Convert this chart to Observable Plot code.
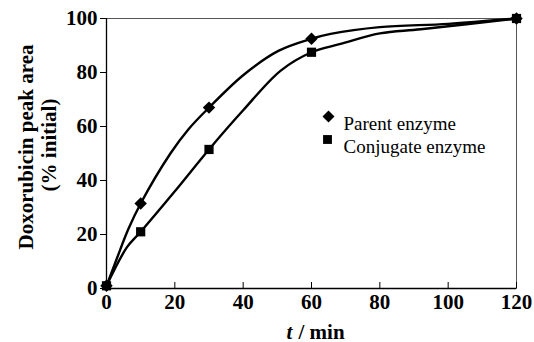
<!DOCTYPE html>
<html>
<head>
<meta charset="utf-8">
<script src="https://cdn.jsdelivr.net/npm/d3@7"></script>
<script src="https://cdn.jsdelivr.net/npm/@observablehq/plot@0.6"></script>
<style>
  html, body { margin: 0; padding: 0; background: #fff; }
  #chart svg text { font-family: 'Liberation Serif', serif !important; }
</style>
</head>
<body>
<div id="chart"></div>
<script>
// Measured points (markers)
const times = [0, 10, 30, 60, 120];
const parentValues = [1, 31.5, 67, 92.5, 100];
const conjugateValues = [1, 21, 51.5, 87.5, 100];

// Drawn curves
const parentCurveT = [0, 3, 6.4, 10, 18.7, 24, 30, 40, 50.3, 60, 65.6, 80, 100, 120];
const parentCurveY = [1, 11, 22, 31.5, 50, 59, 67, 79, 88, 92.5, 94.3, 96.8, 98, 100];
const conjugateCurveT = [0, 6, 10, 20, 30, 40, 51, 60, 68.5, 80, 92, 120];
const conjugateCurveY = [1, 15.3, 21, 36, 51.5, 66, 80.7, 87.5, 90.6, 94.5, 96, 100];

const seriesNames = ["Parent enzyme", "Conjugate enzyme"];
const seriesSymbols = ["diamond2", "square"];
const xTicks = [0, 20, 40, 60, 80, 100, 120];
const yTicks = [0, 20, 40, 60, 80, 100];
const xLabelItalic = "t";
const xLabelRest = "/ min";
const yLabelLines = ["Doxorubicin peak area", "(% initial)"];

const parentPoints = times.map((t, i) => ({t, v: parentValues[i], s: seriesNames[0]}));
const conjugatePoints = times.map((t, i) => ({t, v: conjugateValues[i], s: seriesNames[1]}));
const curves = [
  ...parentCurveT.map((t, i) => ({t, v: parentCurveY[i], s: seriesNames[0]})),
  ...conjugateCurveT.map((t, i) => ({t, v: conjugateCurveY[i], s: seriesNames[1]}))
];

const serif = "Liberation Serif";
const bold = {fontFamily: serif, fontSize: 21, fontWeight: "bold", fill: "black"};

const chart = Plot.plot({
  width: 534,
  height: 342,
  marginLeft: 106,
  marginRight: 18,
  marginTop: 18,
  marginBottom: 54,
  style: {fontFamily: serif, background: "white", overflow: "visible"},
  x: {domain: [0, 120]},
  y: {domain: [0, 100]},
  symbol: {domain: seriesNames, range: seriesSymbols},
  marks: [
    Plot.frame({stroke: "#555", strokeWidth: 1}),
    Plot.ruleX([0], {stroke: "black", strokeWidth: 1.3}),
    Plot.ruleY([0], {stroke: "black", strokeWidth: 1.3}),
    Plot.axisY(yTicks, {anchor: "left", tickSize: 6, tickPadding: 3, label: null, ...bold, stroke: "black"}),
    Plot.axisX(xTicks, {anchor: "bottom", tickSize: -6, text: null, label: null, stroke: "black"}),
    Plot.axisX(xTicks, {anchor: "bottom", tickSize: 0, tickPadding: 6, label: null, ...bold}),
    Plot.line(curves, {x: "t", y: "v", z: "s", curve: "catmull-rom", stroke: "black", strokeWidth: 2.4}),
    Plot.dot(parentPoints, {x: "t", y: "v", symbol: "s", r: 5.6, fill: "black", stroke: "none"}),
    Plot.dot(conjugatePoints, {x: "t", y: "v", symbol: "s", r: 5.2, fill: "black", stroke: "none"}),
    // legend
    Plot.dot([seriesNames[0]], {frameAnchor: "top-left", dx: 222, dy: 98, symbol: d => d, r: 5.4, fill: "black"}),
    Plot.dot([seriesNames[1]], {frameAnchor: "top-left", dx: 221, dy: 121, symbol: d => d, r: 5.0, fill: "black"}),
    Plot.text([seriesNames[0]], {frameAnchor: "top-left", dx: 237, dy: 98, text: d => d, textAnchor: "start", fontFamily: serif, fontSize: 19, fill: "black"}),
    Plot.text([seriesNames[1]], {frameAnchor: "top-left", dx: 237, dy: 121, text: d => d, textAnchor: "start", fontFamily: serif, fontSize: 19, fill: "black"}),
    // axis labels
    Plot.text([xLabelItalic], {frameAnchor: "bottom-left", dx: 180, dy: 50, text: d => d, textAnchor: "start", lineAnchor: "bottom", ...bold, fontStyle: "italic"}),
    Plot.text([xLabelRest], {frameAnchor: "bottom-left", dx: 192, dy: 50, text: d => d, textAnchor: "start", lineAnchor: "bottom", ...bold}),
    Plot.text([yLabelLines[0]], {frameAnchor: "left", rotate: -90, dx: -74, dy: -6.5, text: d => d, lineAnchor: "bottom", textAnchor: "middle", ...bold}),
    Plot.text([yLabelLines[1]], {frameAnchor: "left", rotate: -90, dx: -51, dy: -8.5, text: d => d, lineAnchor: "bottom", textAnchor: "middle", ...bold})
  ]
});
document.getElementById("chart").appendChild(chart);
</script>
</body>
</html>
